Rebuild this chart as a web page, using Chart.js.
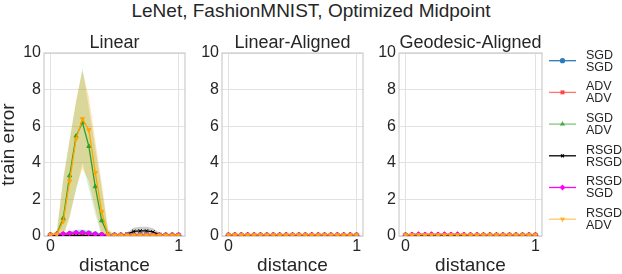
<!DOCTYPE html>
<html>
<head>
<meta charset="utf-8">
<script src="https://cdn.jsdelivr.net/npm/chart.js@4.4.1/dist/chart.umd.min.js"></script>
<style>
body{margin:0;width:622px;height:274px;background:#fff;position:relative;overflow:hidden;font-family:"Liberation Sans",Arial,sans-serif}
canvas{position:absolute;top:0}
#titre{position:absolute;left:0;top:0;width:622px;text-align:center;font-size:19px;line-height:22px;color:#262626}
</style>
</head>
<body>
<div id="titre">LeNet, FashionMNIST, Optimized Midpoint</div>
<canvas id="c1" width="190" height="274" style="left:0px"></canvas>
<canvas id="c2" width="178" height="274" style="left:190px"></canvas>
<canvas id="c3" width="254" height="274" style="left:368px"></canvas>
<script>
// axe des x (distance le long du chemin) et graduations
const distance = [0, 0.05, 0.1, 0.15, 0.2, 0.25, 0.3, 0.35, 0.4, 0.45, 0.5, 0.55, 0.6, 0.65, 0.7, 0.75, 0.8, 0.85, 0.9, 0.95, 1];
const xTicks = [0, 1];
const yTicks = [0, 2, 4, 6, 8, 10];
const panelTitles = ['Linear', 'Linear-Aligned', 'Geodesic-Aligned'];
const seriesNames = [['SGD', 'SGD'], ['ADV', 'ADV'], ['SGD', 'ADV'], ['RSGD', 'RSGD'], ['RSGD', 'SGD'], ['RSGD', 'ADV']];

// Linear : moyenne, borne basse et borne haute de la bande
const linSgdSgd = [0.05, 0.06, 0.08, 0.12, 0.15, 0.16, 0.14, 0.1, 0.06, 0.04, 0.04, 0.04, 0.04, 0.04, 0.04, 0.04, 0.04, 0.04, 0.04, 0.04, 0.04];
const linSgdSgdLow = [0.03, 0.02, 0, 0, 0, 0, 0, 0, 0.01, 0.02, 0.02, 0.02, 0.02, 0.02, 0.02, 0.02, 0.02, 0.02, 0.02, 0.02, 0.02];
const linSgdSgdHigh = [0.07, 0.1, 0.16, 0.26, 0.33, 0.36, 0.3, 0.2, 0.11, 0.06, 0.06, 0.06, 0.06, 0.06, 0.06, 0.06, 0.06, 0.06, 0.06, 0.06, 0.06];
const linAdvAdv = [0.05, 0.05, 0.05, 0.05, 0.05, 0.05, 0.05, 0.05, 0.05, 0.05, 0.05, 0.05, 0.05, 0.05, 0.05, 0.05, 0.05, 0.05, 0.05, 0.05, 0.05];
const linAdvAdvLow = [0.04, 0.04, 0.04, 0.04, 0.04, 0.04, 0.04, 0.04, 0.04, 0.04, 0.04, 0.04, 0.04, 0.04, 0.04, 0.04, 0.04, 0.04, 0.04, 0.04, 0.04];
const linAdvAdvHigh = [0.06, 0.06, 0.06, 0.06, 0.06, 0.06, 0.06, 0.06, 0.06, 0.06, 0.06, 0.06, 0.06, 0.06, 0.06, 0.06, 0.06, 0.06, 0.06, 0.06, 0.06];
const linSgdAdv = [0.05, 0.12, 0.97, 3.3, 5.46, 6.2, 4.9, 2.7, 0.84, 0.06, 0.05, 0.05, 0.05, 0.05, 0.05, 0.05, 0.05, 0.05, 0.05, 0.05, 0.05];
const linSgdAdvLow = [0.03, 0, 0, 1.1, 2.5, 4.0, 2.6, 1.2, 0, 0, 0.03, 0.03, 0.03, 0.03, 0.03, 0.03, 0.03, 0.03, 0.03, 0.03, 0.03];
const linSgdAdvHigh = [0.07, 0.2, 3.2, 5.3, 7.3, 9.2, 7.0, 4.8, 2.6, 0.3, 0.07, 0.07, 0.07, 0.07, 0.07, 0.07, 0.07, 0.07, 0.07, 0.07, 0.07];
const linRsgdRsgd = [0.02, 0.02, 0.02, 0.02, 0.02, 0.02, 0.02, 0.02, 0.02, 0.02, 0.02, 0.02, 0.1, 0.25, 0.28, 0.28, 0.22, 0.08, 0.02, 0.02, 0.02];
const linRsgdRsgdLow = [0.01, 0.01, 0.01, 0.01, 0.01, 0.01, 0.01, 0.01, 0.01, 0.01, 0.01, 0.01, 0.02, 0.05, 0.06, 0.06, 0.04, 0.01, 0.01, 0.01, 0.01];
const linRsgdRsgdHigh = [0.03, 0.03, 0.03, 0.03, 0.03, 0.03, 0.03, 0.03, 0.03, 0.03, 0.03, 0.05, 0.2, 0.45, 0.5, 0.5, 0.42, 0.18, 0.04, 0.03, 0.03];
const linRsgdSgd = [0.05, 0.1, 0.12, 0.15, 0.18, 0.18, 0.15, 0.1, 0.08, 0.05, 0.05, 0.05, 0.05, 0.05, 0.05, 0.05, 0.05, 0.05, 0.05, 0.05, 0.05];
const linRsgdSgdLow = [0.03, 0.05, 0.06, 0.05, 0.06, 0.06, 0.05, 0.04, 0.04, 0.03, 0.03, 0.03, 0.03, 0.03, 0.03, 0.03, 0.03, 0.03, 0.03, 0.03, 0.03];
const linRsgdSgdHigh = [0.07, 0.15, 0.18, 0.25, 0.3, 0.3, 0.25, 0.16, 0.12, 0.07, 0.07, 0.07, 0.07, 0.07, 0.07, 0.07, 0.07, 0.07, 0.07, 0.07, 0.07];
const linRsgdAdv = [0.06, 0.1, 0.8, 3.0, 5.3, 6.4, 5.8, 3.46, 1.33, 0.06, 0.05, 0.05, 0.05, 0.05, 0.05, 0.05, 0.05, 0.05, 0.05, 0.05, 0.05];
const linRsgdAdvLow = [0.04, 0, 0, 1.0, 2.6, 3.7, 3.0, 1.5, 0.1, 0, 0.03, 0.03, 0.03, 0.03, 0.03, 0.03, 0.03, 0.03, 0.03, 0.03, 0.03];
const linRsgdAdvHigh = [0.08, 0.3, 3.0, 5.2, 7.4, 9.0, 7.6, 5.2, 2.9, 0.4, 0.07, 0.07, 0.07, 0.07, 0.07, 0.07, 0.07, 0.07, 0.07, 0.07, 0.07];

// Linear-Aligned : tout reste pres de zero
const laSgdSgd = [0.04, 0.04, 0.04, 0.04, 0.04, 0.04, 0.04, 0.04, 0.04, 0.04, 0.04, 0.04, 0.04, 0.04, 0.04, 0.04, 0.04, 0.04, 0.04, 0.04, 0.04];
const laAdvAdv = [0.05, 0.05, 0.05, 0.05, 0.05, 0.05, 0.05, 0.05, 0.05, 0.05, 0.05, 0.05, 0.05, 0.05, 0.05, 0.05, 0.05, 0.05, 0.05, 0.05, 0.05];
const laSgdAdv = [0.05, 0.05, 0.05, 0.05, 0.05, 0.05, 0.05, 0.05, 0.05, 0.05, 0.05, 0.05, 0.05, 0.05, 0.05, 0.05, 0.05, 0.05, 0.05, 0.05, 0.05];
const laRsgdRsgd = [0.02, 0.02, 0.02, 0.02, 0.02, 0.02, 0.02, 0.02, 0.02, 0.02, 0.02, 0.02, 0.02, 0.02, 0.02, 0.02, 0.02, 0.02, 0.02, 0.02, 0.02];
const laRsgdSgd = [0.05, 0.07, 0.06, 0.07, 0.06, 0.07, 0.06, 0.07, 0.06, 0.07, 0.06, 0.07, 0.06, 0.07, 0.06, 0.07, 0.06, 0.07, 0.06, 0.07, 0.05];
const laRsgdAdv = [0.06, 0.06, 0.06, 0.06, 0.06, 0.06, 0.06, 0.06, 0.06, 0.06, 0.06, 0.06, 0.06, 0.06, 0.06, 0.06, 0.06, 0.06, 0.06, 0.06, 0.06];

// Geodesic-Aligned
const gaSgdSgd = [0.04, 0.04, 0.04, 0.04, 0.04, 0.04, 0.04, 0.04, 0.04, 0.04, 0.04, 0.04, 0.04, 0.04, 0.04, 0.04, 0.04, 0.04, 0.04, 0.04, 0.04];
const gaAdvAdv = [0.05, 0.05, 0.05, 0.05, 0.05, 0.05, 0.05, 0.05, 0.05, 0.05, 0.05, 0.05, 0.05, 0.05, 0.05, 0.05, 0.05, 0.05, 0.05, 0.05, 0.05];
const gaSgdAdv = [0.05, 0.05, 0.05, 0.05, 0.05, 0.05, 0.05, 0.05, 0.05, 0.05, 0.05, 0.05, 0.05, 0.05, 0.05, 0.05, 0.05, 0.05, 0.05, 0.05, 0.05];
const gaRsgdRsgd = [0.02, 0.02, 0.02, 0.02, 0.02, 0.02, 0.02, 0.02, 0.02, 0.02, 0.02, 0.02, 0.02, 0.02, 0.02, 0.02, 0.02, 0.02, 0.02, 0.02, 0.02];
const gaRsgdSgd = [0.05, 0.09, 0.1, 0.09, 0.1, 0.09, 0.1, 0.09, 0.1, 0.08, 0.07, 0.07, 0.06, 0.06, 0.06, 0.06, 0.06, 0.06, 0.06, 0.06, 0.05];
const gaRsgdAdv = [0.06, 0.06, 0.06, 0.06, 0.06, 0.06, 0.06, 0.06, 0.06, 0.06, 0.06, 0.06, 0.06, 0.06, 0.06, 0.06, 0.06, 0.06, 0.06, 0.06, 0.06];

const couleurs = ['#1f77b4', '#ff2a2a', '#2ca02c', '#000000', '#ff00ff', '#ffa500'];
const couleursLegende = ['#2b7bba', 'rgba(255,40,40,0.65)', 'rgba(44,160,44,0.6)', '#000000', '#ff00ff', 'rgba(255,165,0,0.6)'];
const bandes = ['rgba(31,119,180,0.25)', 'rgba(255,0,0,0.2)', 'rgba(44,160,44,0.18)', 'rgba(0,0,0,0.2)', 'rgba(255,0,255,0.2)', 'rgba(255,165,0,0.3)'];
const marqueurs = ['circle', 'rect', 'triangle', 'crossRot', 'rectRot', 'triangle'];
const rotations = [0, 0, 0, 0, 0, 180];
const texte = '#262626';
const police = '"Liberation Sans", Arial, sans-serif';

// cadre gris et titre centre sur la zone de trace
const cadre = {
    id: 'cadre',
    beforeDatasetsDraw(chart) {
        const a = chart.chartArea, ctx = chart.ctx;
        ctx.save();
        ctx.strokeStyle = '#cccccc';
        ctx.lineWidth = 1.2;
        ctx.strokeRect(a.left, a.top, a.right - a.left, a.bottom - a.top);
        ctx.restore();
    },
    afterDraw(chart) {
        const a = chart.chartArea, ctx = chart.ctx;
        ctx.save();
        ctx.fillStyle = texte;
        ctx.font = '18px ' + police;
        ctx.textAlign = 'center';
        ctx.textBaseline = 'alphabetic';
        ctx.fillText(chart.options.plugins.panelTitle, (a.left + a.right) / 2, 48);
        ctx.restore();
    }
};

const legende = {
    id: 'legende',
    afterDraw(chart) {
        const ctx = chart.ctx;
        const x0 = 549 - 368;
        ctx.save();
        seriesNames.forEach((nom, i) => {
            const y = 60.7 + 31.7 * i;
            ctx.strokeStyle = couleursLegende[i];
            ctx.fillStyle = couleursLegende[i];
            ctx.lineWidth = 1.3;
            ctx.beginPath();
            ctx.moveTo(x0, y);
            ctx.lineTo(x0 + 27, y);
            ctx.stroke();
            Chart.helpers.drawPoint(ctx, {pointStyle: marqueurs[i], rotation: rotations[i], radius: 2, borderWidth: 1}, x0 + 13.5, y);
            ctx.fillStyle = texte;
            ctx.font = '12.5px ' + police;
            ctx.textBaseline = 'middle';
            ctx.textAlign = 'left';
            ctx.fillText(nom[0], x0 + 37, y - 5.5);
            ctx.fillText(nom[1], x0 + 37, y + 6.5);
        });
        ctx.restore();
    }
};

function panneau(id, titre, moyennes, bornesBasses, bornesHautes, largeurY, margeDroite, avecTitreY, avecLegende) {
    const datasets = [];
    if (bornesBasses) {
        moyennes.forEach((m, i) => {
            const bas = datasets.length;
            datasets.push({
                data: distance.map((d, k) => ({x: d, y: bornesBasses[i][k]})),
                borderColor: 'rgba(0,0,0,0)', borderWidth: 0, pointRadius: 0, fill: false, order: 100 + i
            });
            datasets.push({
                data: distance.map((d, k) => ({x: d, y: bornesHautes[i][k]})),
                borderColor: 'rgba(0,0,0,0)', borderWidth: 0, pointRadius: 0,
                fill: bas, backgroundColor: bandes[i], order: 100 + i
            });
        });
    }
    moyennes.forEach((m, i) => {
        datasets.push({
            label: seriesNames[i].join(' '),
            data: distance.map((d, k) => ({x: d, y: m[k]})),
            borderColor: couleurs[i],
            backgroundColor: couleurs[i],
            borderWidth: 1.3,
            pointStyle: marqueurs[i],
            rotation: rotations[i],
            pointRadius: 2.4,
            pointBorderWidth: 1,
            fill: false,
            order: 10 - i
        });
    });
    return new Chart(document.getElementById(id), {
        type: 'line',
        data: {datasets},
        plugins: avecLegende ? [cadre, legende] : [cadre],
        options: {
            responsive: false,
            animation: false,
            layout: {padding: {top: 53, right: margeDroite, bottom: 0, left: 0}},
            plugins: {
                legend: {display: false},
                tooltip: {enabled: false},
                panelTitle: titre
            },
            scales: {
                x: {
                    type: 'linear', min: -0.05, max: 1.05,
                    afterBuildTicks: s => { s.ticks = xTicks.map(v => ({value: v})); },
                    afterFit: s => { s.height = 38; },
                    grid: {color: '#e2e2e2', drawTicks: false},
                    border: {display: false},
                    ticks: {color: texte, font: {family: police, size: 16}, padding: 1},
                    title: {display: true, text: 'distance', color: texte,
                        font: {family: police, size: 19, lineHeight: 1}, padding: {top: 0, bottom: -1}}
                },
                y: {
                    min: 0, max: 10,
                    afterBuildTicks: s => { s.ticks = yTicks.map(v => ({value: v})); },
                    afterFit: s => { s.width = largeurY; },
                    grid: {color: '#e2e2e2', drawTicks: false},
                    border: {display: false},
                    ticks: {color: texte, font: {family: police, size: 16}, padding: 3},
                    title: {display: avecTitreY, text: 'train error', color: texte,
                        font: {family: police, size: 19, lineHeight: 1}, padding: {top: -1, bottom: 0}}
                }
            }
        }
    });
}

panneau('c1', panelTitles[0],
    [linSgdSgd, linAdvAdv, linSgdAdv, linRsgdRsgd, linRsgdSgd, linRsgdAdv],
    [linSgdSgdLow, linAdvAdvLow, linSgdAdvLow, linRsgdRsgdLow, linRsgdSgdLow, linRsgdAdvLow],
    [linSgdSgdHigh, linAdvAdvHigh, linSgdAdvHigh, linRsgdRsgdHigh, linRsgdSgdHigh, linRsgdAdvHigh],
    44, 3, true, false);
panneau('c2', panelTitles[1],
    [laSgdSgd, laAdvAdv, laSgdAdv, laRsgdRsgd, laRsgdSgd, laRsgdAdv],
    null, null, 32, 3, false, false);
panneau('c3', panelTitles[2],
    [gaSgdSgd, gaAdvAdv, gaSgdAdv, gaRsgdRsgd, gaRsgdSgd, gaRsgdAdv],
    null, null, 31, 80, false, true);
</script>
</body>
</html>
